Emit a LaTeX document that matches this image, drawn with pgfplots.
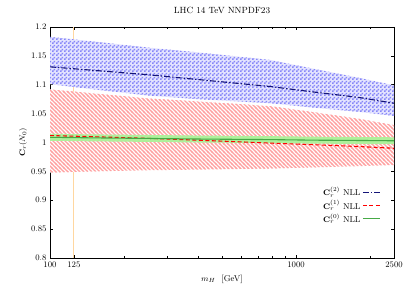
\documentclass[border=0pt]{standalone}
\usepackage{pgfplots}
\pgfplotsset{compat=1.18}
\usetikzlibrary{patterns}
\definecolor{bandblue}{RGB}{135,135,248}
\definecolor{bandbluebg}{RGB}{228,228,255}
\definecolor{bandred}{RGB}{255,160,160}
\definecolor{bandgreen}{RGB}{175,240,155}
\definecolor{lineblue}{RGB}{20,20,120}
\definecolor{linegreen}{RGB}{70,170,70}
\definecolor{vorange}{RGB}{255,215,160}
\pgfdeclarepatternformonly{checker}{\pgfpointorigin}{\pgfpoint{4bp}{4bp}}{\pgfpoint{4bp}{4bp}}{%
  \pgfpathrectangle{\pgfpointorigin}{\pgfpoint{2bp}{2bp}}%
  \pgfpathrectangle{\pgfpoint{2bp}{2bp}}{\pgfpoint{2bp}{2bp}}%
  \pgfusepath{fill}}
\pgfdeclarepatternformonly{hatch}{\pgfpoint{-1bp}{-1bp}}{\pgfpoint{5bp}{5bp}}{\pgfpoint{4bp}{4bp}}{%
  \pgfsetlinewidth{1.2bp}%
  \pgfpathmoveto{\pgfpoint{-1bp}{5bp}}\pgfpathlineto{\pgfpoint{5bp}{-1bp}}%
  \pgfusepath{stroke}}
\begin{document}
\begin{tikzpicture}
\path[pattern=checker, pattern color=bandblue] (0,0) rectangle (0,0);
\path[pattern=hatch, pattern color=bandred] (0,0) rectangle (0,0);
\begin{axis}[
  name=main,
  scale only axis,
  width=344bp, height=231bp,
  xmode=log,
  xmin=100, xmax=2500,
  ymin=0.8, ymax=1.2,
  xtick={100,125,1000,2500},
  xticklabels={100,125,1000,2500},
  minor xtick={200,300,400,500,600,700,800,900,2000},
  ytick={0.8,0.85,0.9,0.95,1,1.05,1.1,1.15,1.2},
  yticklabels={0.8,0.85,0.9,0.95,1,1.05,1.1,1.15,1.2},
  tick align=inside,
  major tick length=3pt, minor tick length=2pt,
  tick style={black, line width=0.5pt},
  axis line style={line width=0.6pt},
  font=\fontsize{8.5}{10}\selectfont,
  tick label style={font=\fontsize{8.5}{10}\selectfont},
  title={LHC 14 TeV NNPDF23},
  title style={font=\fontsize{9}{11}\selectfont, yshift=4pt},
  xlabel={$m_H$ \ [GeV]},
  ylabel={$\mathbf{C}_r(N_0)$},
  ylabel style={yshift=-3pt},
  xlabel style={yshift=-1pt},
  legend style={draw=none, fill=none, at={(0.97,0.13)}, anchor=south east,
    font=\fontsize{8.5}{10}\selectfont, row sep=-1pt},
  legend cell align=right,
  legend plot pos=right,
  clip=true,
]
% no-op first plot
\addplot[draw=none, forget plot] coordinates {(125,0.8) (125,0.8)};
% vertical line at 125
\addplot[color=vorange, line width=1.3pt, forget plot] coordinates {(125,0.8) (125,1.2)};
% blue band
\addplot[draw=none, preaction={fill=bandbluebg}, pattern=checker, pattern color=bandblue, forget plot] coordinates {
(100,1.183) (150,1.175) (255,1.164) (400,1.156) (783,1.143) (1200,1.127) (1800,1.112) (2500,1.099)
(2500,1.046) (1800,1.053) (1200,1.060) (783,1.068) (400,1.075) (255,1.081) (150,1.092) (100,1.101)
} -- cycle;
% red band
\addplot[draw=none, preaction={fill=white}, pattern=hatch, pattern color=bandred, forget plot] coordinates {
(100,1.092) (150,1.085) (255,1.076) (400,1.071) (783,1.063) (1200,1.052) (1800,1.041) (2500,1.030)
(2500,0.961) (1800,0.959) (1200,0.957) (783,0.955) (400,0.953) (255,0.952) (150,0.950) (100,0.948)
} -- cycle;
% green band
\addplot[draw=none, fill=bandgreen, forget plot] coordinates {
(100,1.015) (150,1.014) (255,1.013) (400,1.012) (783,1.011) (1200,1.010) (1800,1.0095) (2500,1.009)
(2500,0.997) (1800,0.9975) (1200,0.998) (783,0.999) (400,1.000) (255,1.001) (150,1.002) (100,1.003)
} -- cycle;
% central lines
\addplot[color=lineblue, line width=1.1pt, dash pattern=on 6pt off 2pt on 1.5pt off 2pt] coordinates {
(100,1.131) (150,1.125) (255,1.117) (400,1.109) (783,1.097) (1200,1.087) (1800,1.078) (2500,1.068)
};
\addlegendentry{$\mathbf{C}_r^{(2)}$ NLL}
\addplot[color=red, line width=1.1pt, dash pattern=on 4pt off 2.5pt] coordinates {
(100,1.012) (150,1.010) (255,1.007) (400,1.004) (783,0.999) (1200,0.996) (1800,0.993) (2500,0.990)
};
\addlegendentry{$\mathbf{C}_r^{(1)}$ NLL}
\addplot[color=linegreen, line width=1.1pt] coordinates {
(100,1.009) (150,1.008) (255,1.007) (400,1.006) (783,1.005) (1200,1.004) (1800,1.0035) (2500,1.003)
};
\addlegendentry{$\mathbf{C}_r^{(0)}$ NLL}
\end{axis}
\pgfresetboundingbox
\path[use as bounding box] ([xshift=-50bp,yshift=-30bp]main.south west) rectangle ([xshift=17bp,yshift=27bp]main.north east);
\end{tikzpicture}
\end{document}
